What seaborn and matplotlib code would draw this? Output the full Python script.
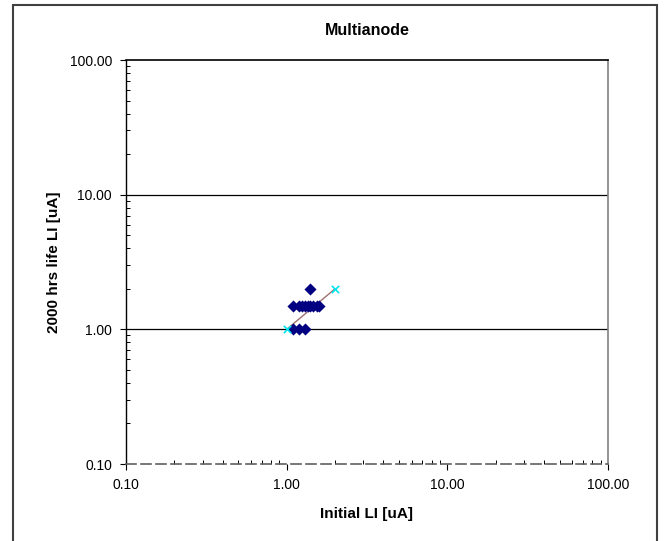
import matplotlib
matplotlib.use("Agg")
import matplotlib.pyplot as plt
import seaborn as sns
import pandas as pd
from matplotlib.ticker import LogLocator, FormatStrFormatter, NullFormatter
from matplotlib.patches import Rectangle

# Data
initial_li = [1.1, 1.2, 1.3, 1.1, 1.2, 1.25, 1.3, 1.35, 1.4, 1.45, 1.55, 1.6, 1.4]
life_li    = [1.0, 1.0, 1.0, 1.5, 1.5, 1.5, 1.5, 1.5, 1.5, 1.5, 1.5, 1.5, 2.0]
ref_x = [1.0, 2.0]
ref_y = [1.0, 2.0]

sns.set_theme(style="white")
plt.rcParams['font.family'] = ['Liberation Sans', 'DejaVu Sans']
plt.rcParams['text.color'] = 'black'
plt.rcParams['axes.labelcolor'] = 'black'

fig = plt.figure(figsize=(6.65, 5.41), dpi=100)
ax = fig.add_axes([126/665, 1-464/541, (608-126)/665, (464-60)/541])

df = pd.DataFrame({"x": initial_li, "y": life_li})
ref = pd.DataFrame({"x": ref_x, "y": ref_y})

sns.lineplot(data=ref, x="x", y="y", ax=ax, color="#a07070", lw=1.0, zorder=3)
sns.scatterplot(data=df, x="x", y="y", ax=ax, marker="D", s=38, color="#000080",
                edgecolor="#000080", linewidth=0, zorder=4)
sns.scatterplot(data=ref, x="x", y="y", ax=ax, marker="x", s=28, color="#00e5ee",
                linewidth=1.2, zorder=5)

ax.set_xscale("log")
ax.set_yscale("log")
ax.set_xlim(0.1, 100)
ax.set_ylim(0.1, 100)

for v in [1, 10]:
    ax.axhline(v, color="black", lw=0.9, zorder=1)

ax.xaxis.set_major_locator(LogLocator(base=10, numticks=10))
ax.yaxis.set_major_locator(LogLocator(base=10, numticks=10))
ax.xaxis.set_minor_locator(LogLocator(base=10, subs=range(2, 10), numticks=20))
ax.yaxis.set_minor_locator(LogLocator(base=10, subs=range(2, 10), numticks=20))
ax.xaxis.set_major_formatter(FormatStrFormatter('%.2f'))
ax.yaxis.set_major_formatter(FormatStrFormatter('%.2f'))
ax.xaxis.set_minor_formatter(NullFormatter())
ax.yaxis.set_minor_formatter(NullFormatter())

ax.tick_params(axis='both', which='major', direction='out', length=4, width=0.8,
               labelsize=10, colors='black', left=True, bottom=True, pad=6)
ax.tick_params(axis='both', which='minor', direction='in', length=3, width=0.7,
               left=True, bottom=True, colors='black')

ax.spines['left'].set_color('black')
ax.spines['left'].set_linewidth(1.0)
ax.spines['top'].set_color('black')
ax.spines['top'].set_linewidth(1.2)
ax.spines['right'].set_color('#808080')
ax.spines['right'].set_linewidth(1.2)
ax.spines['bottom'].set_color('#606060')
ax.spines['bottom'].set_linewidth(1.2)
ax.spines['bottom'].set_linestyle((0, (6, 3)))

ax.set_xlabel("Initial LI [uA]", fontsize=11, fontweight='bold', labelpad=11)
ax.set_ylabel("2000 hrs life LI [uA]", fontsize=11, fontweight='bold', labelpad=6)
ax.set_title("Multianode", fontsize=11.5, fontweight='bold', pad=18, color='black')

fig.patches.append(Rectangle((13/665, -0.01), (657-13)/665, 1-5/541+0.01,
                             transform=fig.transFigure, fill=False,
                             edgecolor='#404040', lw=1.5, zorder=0))

fig.savefig("out.png", dpi=100, facecolor="white")
